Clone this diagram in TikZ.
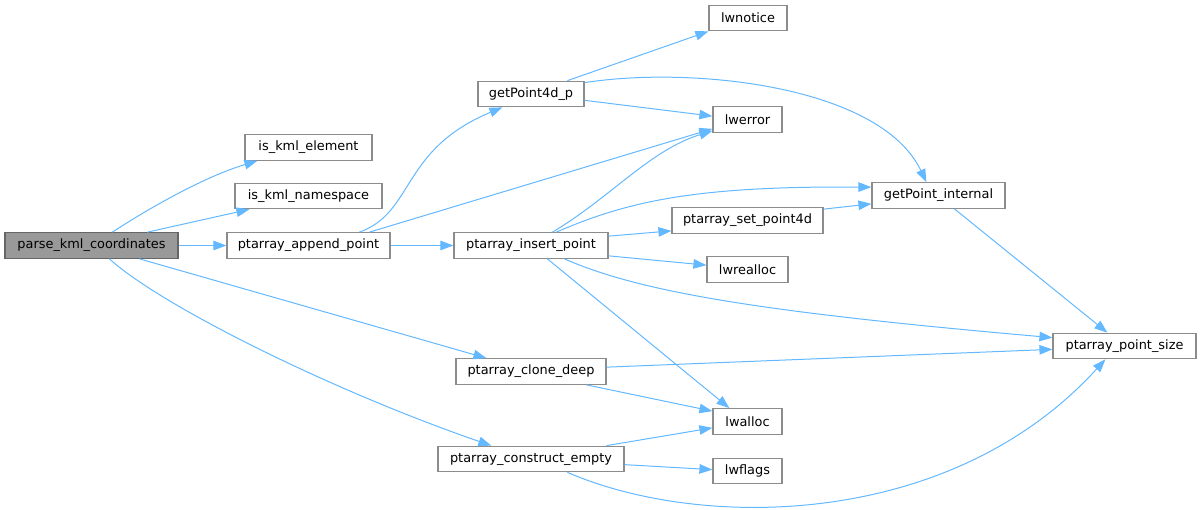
\documentclass[tikz,border=0pt]{standalone}
\usepackage{fontspec}
\setmainfont{DejaVu Sans}
\usetikzlibrary{arrows.meta}
\definecolor{edgec}{HTML}{63B8FF}
\definecolor{bordc}{HTML}{8C8C8C}
\tikzset{
  fn/.style={draw=bordc, line width=1.2pt, fill=white, inner sep=0pt, minimum height=25.5pt, font=\fontsize{12.9pt}{14pt}\selectfont, text=black},
  cur/.style={fn, fill=black!40, draw=black!60},
  call/.style={draw=edgec, line width=1pt, -{Triangle[length=13pt,width=9.5pt]}}
}
\begin{document}
\begin{tikzpicture}[x=1pt,y=-1pt]
\useasboundingbox (0,0) rectangle (1201,510);
\node[cur, minimum width=173pt] (parse) at (91.5,245.5) {parse\_kml\_coordinates};
\node[fn, minimum width=127pt] (iskml) at (308.5,147.5) {is\_kml\_element};
\node[fn, minimum width=147pt] (isns) at (308.5,196) {is\_kml\_namespace};
\node[fn, minimum width=163pt] (append) at (308.5,245.5) {ptarray\_append\_point};
\node[fn, minimum width=106pt] (gp4d) at (531,94) {getPoint4d\_p};
\node[fn, minimum width=78pt] (lwnotice) at (748,18) {lwnotice};
\node[fn, minimum width=69pt] (lwerror) at (747.5,119.5) {lwerror};
\node[fn, minimum width=151pt] (setp) at (747.5,220.5) {ptarray\_set\_point4d};
\node[fn, minimum width=154pt] (insert) at (531,245.5) {ptarray\_insert\_point};
\node[fn, minimum width=81pt] (lwrealloc) at (747.5,269.5) {lwrealloc};
\node[fn, minimum width=133pt] (gpi) at (938.5,195.5) {getPoint\_internal};
\node[fn, minimum width=143pt] (psize) at (1124.5,346) {ptarray\_point\_size};
\node[fn, minimum width=150pt] (clone) at (531,371.5) {ptarray\_clone\_deep};
\node[fn, minimum width=69pt] (lwalloc) at (747.5,421.5) {lwalloc};
\node[fn, minimum width=186pt] (construct) at (531,459) {ptarray\_construct\_empty};
\node[fn, minimum width=69pt] (lwflags) at (747.5,471) {lwflags};

% parse_kml_coordinates
\draw[call] ([xshift=108pt]parse.north west) .. controls (140,214) and (200,178) .. ([xshift=13pt]iskml.south west);
\draw[call] ([xshift=143pt]parse.north west) -- ([xshift=15pt]isns.south west);
\draw[call] (parse.east) -- (append.west);
\draw[call] ([xshift=135pt]parse.south west) -- ([xshift=31pt]clone.north west);
\draw[call] ([xshift=105pt]parse.south west) .. controls (160,305) and (330,390) .. ([xshift=54pt]construct.north west);
% ptarray_append_point
\draw[call] ([xshift=133pt]append.north west) .. controls (415,212) and (400,150) .. ([xshift=25pt]gp4d.south west);
\draw[call] ([xshift=143pt]append.north west) -- ([yshift=4pt]lwerror.south west);
\draw[call] (append.east) -- (insert.west);
% getPoint4d_p
\draw[call] ([xshift=90pt]gp4d.north west) -- (lwnotice.south west);
\draw[call] ([yshift=-2pt]gp4d.north east) .. controls (690,66) and (880,85) .. ([xshift=55pt]gpi.north west);
\draw[call] ([yshift=7pt]gp4d.south east) -- ([yshift=-10pt]lwerror.north west);
% ptarray_insert_point
\draw[call] ([xshift=99pt]insert.north west) .. controls (610,198) and (650,150) .. ([yshift=2pt]lwerror.south west);
\draw[call] ([xshift=103pt]insert.north west) .. controls (630,200) and (700,186) .. ([yshift=-5pt]gpi.north west);
\draw[call] ([yshift=-4pt]insert.north east) -- ([yshift=3pt]setp.south west);
\draw[call] ([yshift=3pt]insert.south east) -- ([yshift=-9pt]lwrealloc.north west);
\draw[call] ([xshift=111pt]insert.south west) .. controls (640,292) and (760,312) .. ([yshift=-5pt]psize.north west);
\draw[call] ([xshift=94pt]insert.south west) -- ([xshift=17pt]lwalloc.north west);
% others
\draw[call] ([yshift=-2pt]setp.north east) -- ([yshift=5pt]gpi.south west);
\draw[call] ([xshift=83pt]gpi.south west) -- ([xshift=55pt]psize.north west);
\draw[call] ([yshift=-9pt]clone.north east) -- ([yshift=10pt]psize.south west);
\draw[call] ([xshift=131pt]clone.south west) -- ([yshift=-3pt]lwalloc.north west);
\draw[call] ([xshift=169pt]construct.north west) -- ([yshift=7pt]lwalloc.south west);
\draw[call] ([yshift=-19pt]construct.north east) -- ([yshift=-12pt]lwflags.north west);
\draw[call] ([xshift=130pt]construct.south west) .. controls (700,530) and (950,530) .. ([xshift=53pt]psize.south west);
\end{tikzpicture}
\end{document}
